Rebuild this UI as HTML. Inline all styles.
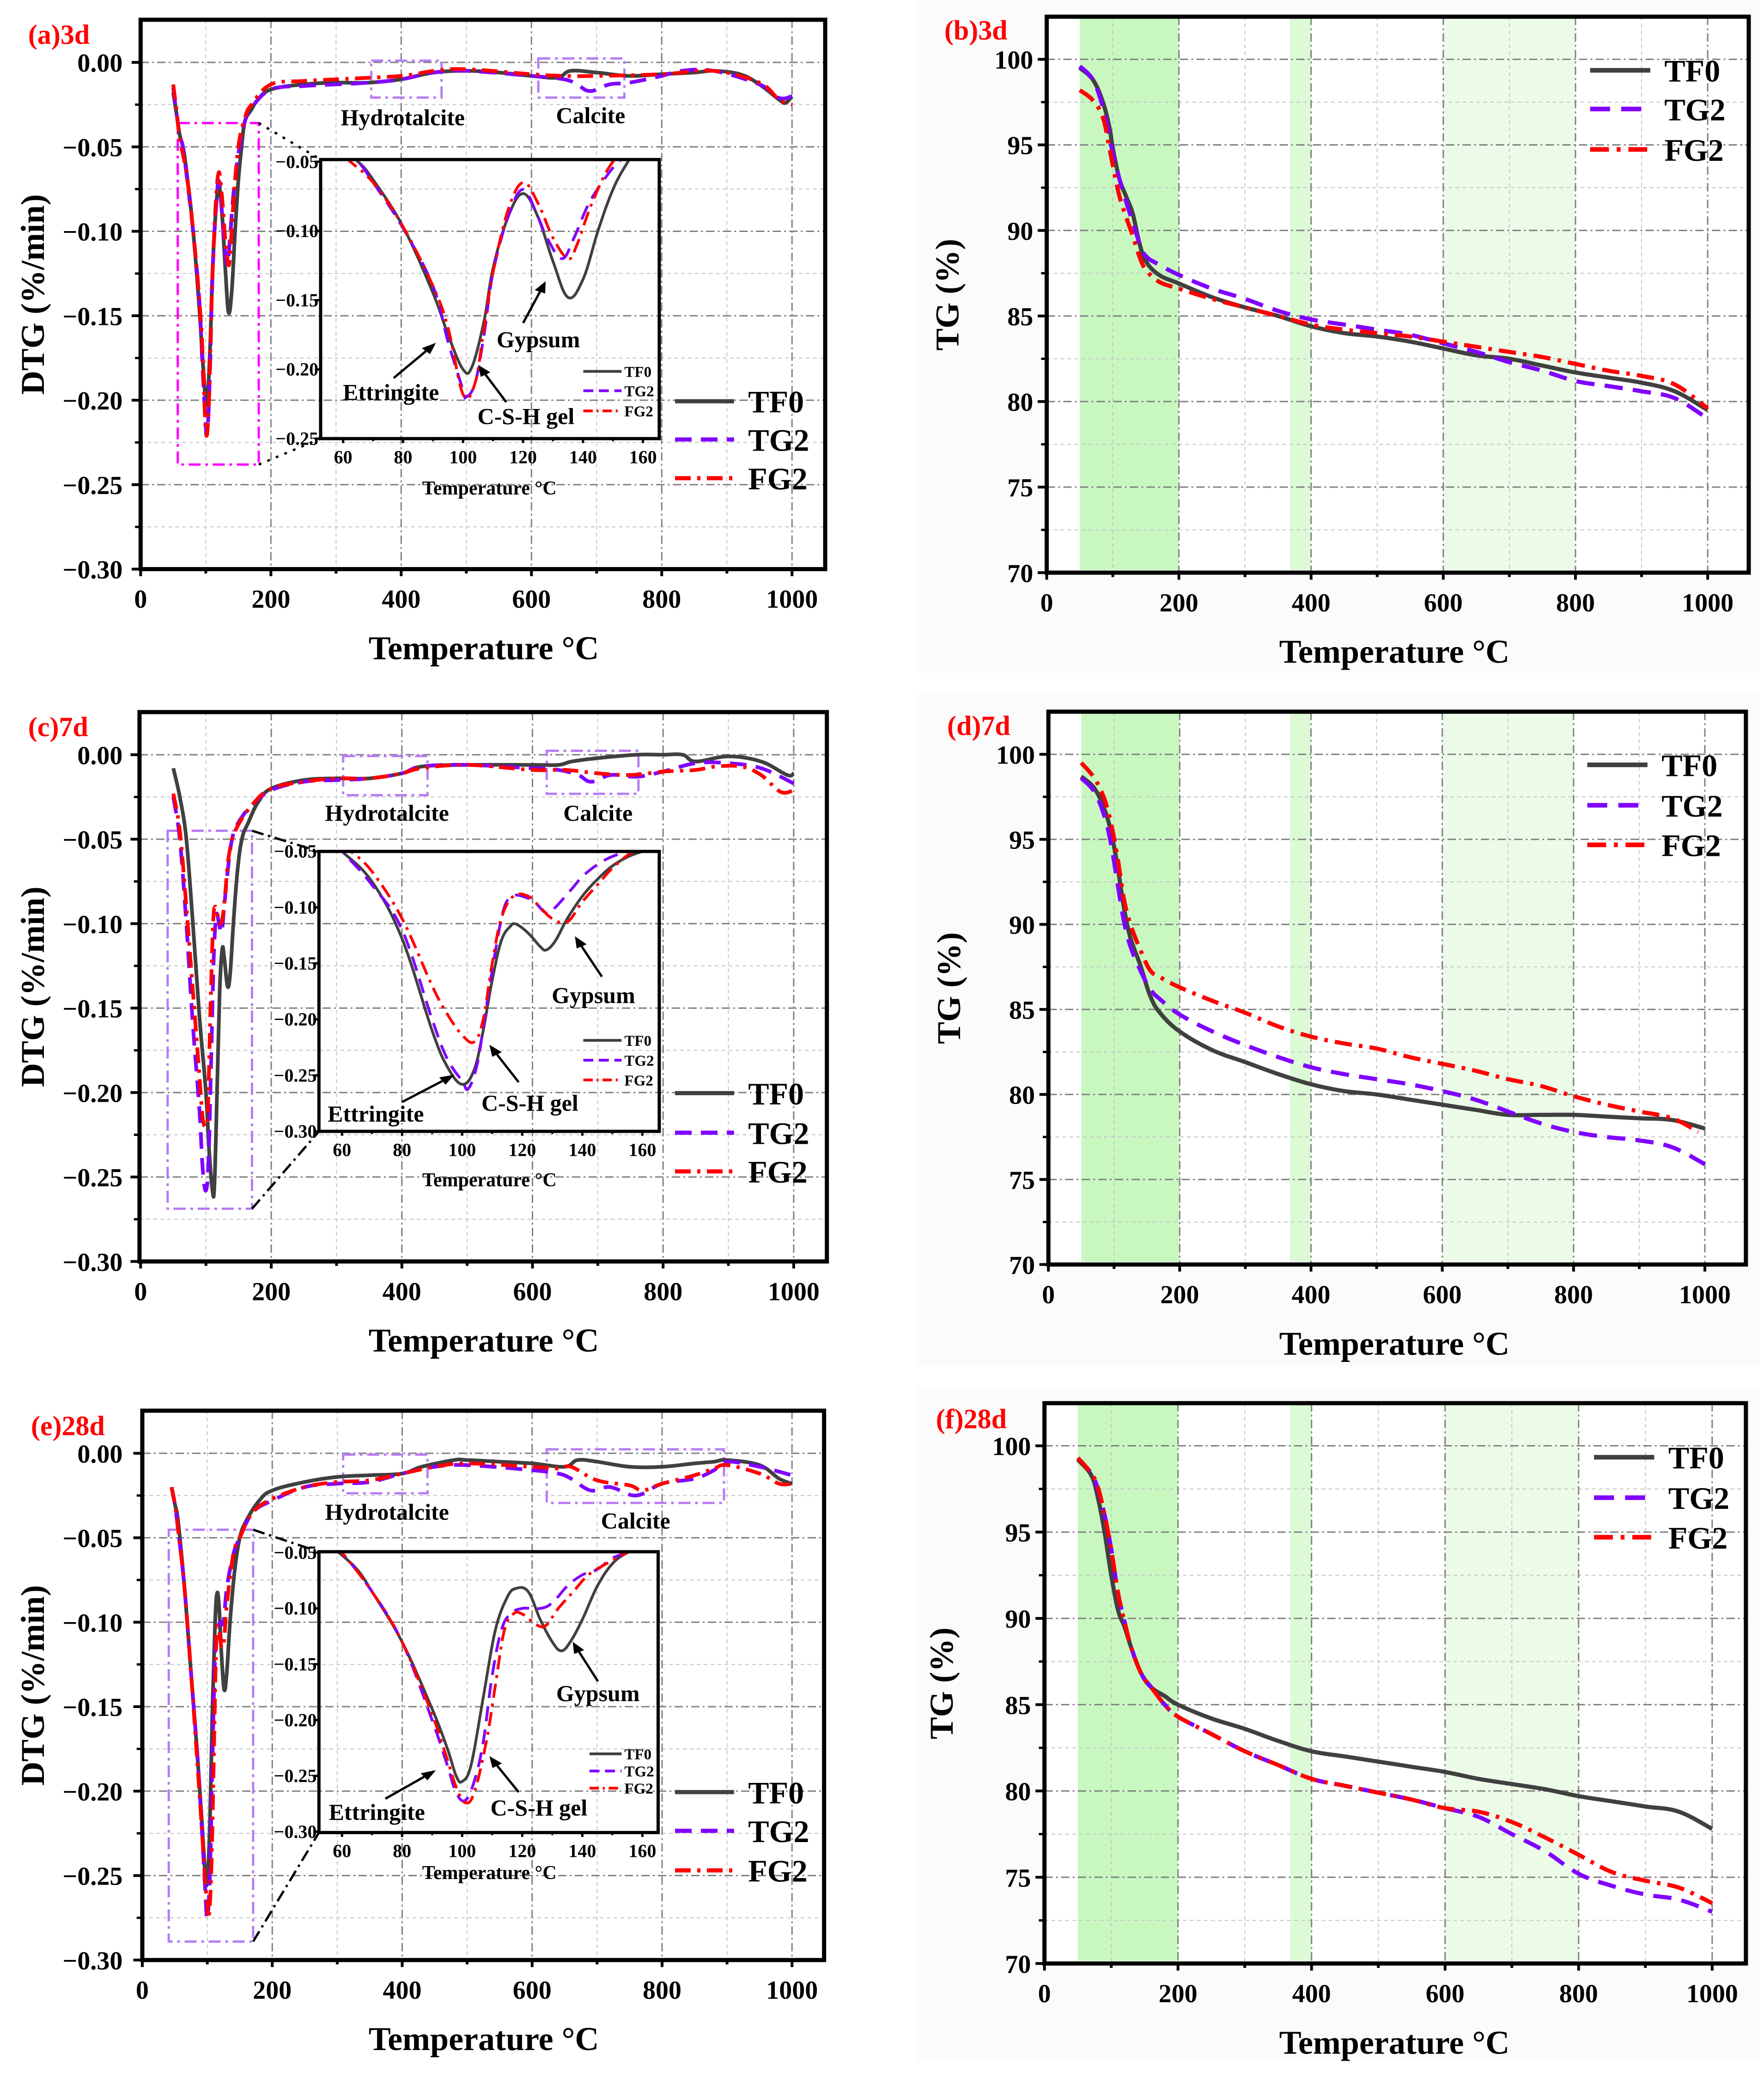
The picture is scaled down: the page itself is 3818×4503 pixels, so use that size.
<!DOCTYPE html>
<html><head><meta charset="utf-8">
<style>
html,body{margin:0;padding:0;background:#fff;overflow:hidden;}
svg{display:block;}
text{font-family:"Liberation Serif",serif;font-weight:bold;}
</style></head>
<body>
<svg id="fig" xmlns="http://www.w3.org/2000/svg" width="3818" height="4503" viewBox="0 0 3818 4503"></svg>
<script>
// ===== Panel (a) 3d DTG =====
const aTF0T=[50,55,60,65,70,80,90,95,100,103,107,110,115,120,125,130,135,140,145,150,155,160,170,180,200,250,300,350,400,450,500,550,600,640,660,700,750,800,850,880,920,950,980,990,1000];
const aTF0V=[-0.018,-0.03,-0.043,-0.05,-0.063,-0.097,-0.145,-0.175,-0.2,-0.198,-0.165,-0.127,-0.09,-0.073,-0.09,-0.122,-0.148,-0.135,-0.1,-0.07,-0.05,-0.035,-0.028,-0.022,-0.016,-0.013,-0.012,-0.012,-0.01,-0.006,-0.005,-0.006,-0.008,-0.009,-0.005,-0.006,-0.008,-0.007,-0.006,-0.005,-0.007,-0.013,-0.022,-0.024,-0.02];
const aTG2T=[50,55,60,65,70,80,90,95,100,101,104,107,110,115,120,125,128,133,137,142,148,152,160,170,200,250,300,350,400,450,500,600,650,670,690,720,750,800,830,880,950,980,1000];
const aTG2V=[-0.015,-0.03,-0.043,-0.05,-0.065,-0.098,-0.14,-0.18,-0.215,-0.22,-0.21,-0.175,-0.13,-0.09,-0.07,-0.09,-0.105,-0.12,-0.105,-0.08,-0.06,-0.05,-0.035,-0.027,-0.016,-0.014,-0.013,-0.012,-0.01,-0.006,-0.005,-0.008,-0.01,-0.013,-0.017,-0.013,-0.012,-0.008,-0.005,-0.005,-0.013,-0.021,-0.02];
const aFG2T=[50,55,60,70,80,90,95,100,104,107,110,115,120,125,130,135,138,143,150,160,170,200,250,300,400,450,500,600,650,700,800,880,950,980,1000];
const aFG2V=[-0.013,-0.028,-0.045,-0.065,-0.097,-0.14,-0.17,-0.218,-0.21,-0.17,-0.13,-0.085,-0.065,-0.08,-0.105,-0.12,-0.11,-0.08,-0.05,-0.033,-0.025,-0.013,-0.011,-0.01,-0.008,-0.005,-0.004,-0.007,-0.008,-0.008,-0.007,-0.005,-0.012,-0.022,-0.025];

// ===== Panel (c) 7d DTG =====
const cTF0T=[50,60,70,80,90,100,105,110,113,117,121,125,128,133,137,142,148,155,165,180,200,250,300,350,400,430,500,600,640,660,700,760,800,830,850,900,950,990,1000];
const cTF0V=[-0.008,-0.025,-0.05,-0.1,-0.155,-0.2,-0.235,-0.258,-0.255,-0.2,-0.14,-0.115,-0.12,-0.137,-0.13,-0.1,-0.07,-0.05,-0.04,-0.028,-0.02,-0.015,-0.014,-0.014,-0.011,-0.007,-0.006,-0.006,-0.006,-0.004,-0.002,0,0,0,-0.004,-0.001,-0.004,-0.012,-0.011];
const cTG2T=[50,60,70,80,90,95,100,104,108,112,116,120,124,128,133,140,150,170,200,250,300,350,400,430,500,600,640,670,690,720,760,800,850,900,950,1000];
const cTG2V=[-0.025,-0.05,-0.1,-0.16,-0.21,-0.245,-0.258,-0.24,-0.18,-0.12,-0.095,-0.1,-0.105,-0.09,-0.07,-0.05,-0.04,-0.03,-0.021,-0.016,-0.015,-0.014,-0.011,-0.007,-0.006,-0.008,-0.009,-0.012,-0.016,-0.012,-0.013,-0.01,-0.005,-0.005,-0.008,-0.017];
const cFG2T=[50,60,70,80,90,95,100,103,107,111,114,118,122,126,130,135,145,170,200,250,300,350,400,430,500,600,650,700,750,800,850,880,920,950,980,1000];
const cFG2V=[-0.023,-0.045,-0.09,-0.14,-0.19,-0.215,-0.22,-0.21,-0.15,-0.1,-0.09,-0.095,-0.1,-0.095,-0.08,-0.06,-0.045,-0.03,-0.02,-0.016,-0.014,-0.014,-0.011,-0.008,-0.006,-0.009,-0.009,-0.011,-0.012,-0.01,-0.009,-0.007,-0.007,-0.012,-0.022,-0.021];
const ciTF0T=[57,60,70,80,90,95,100,104,107,110,113,116,118,122,126,128,131,135,140,145,150,155,160,165];
const ciTF0V=[-0.043,-0.05,-0.077,-0.128,-0.21,-0.242,-0.258,-0.245,-0.21,-0.165,-0.13,-0.117,-0.115,-0.123,-0.135,-0.138,-0.13,-0.11,-0.09,-0.075,-0.063,-0.055,-0.05,-0.046];
const ciTG2T=[57,60,70,80,90,95,100,102,105,108,111,114,117,120,124,128,131,136,141,148,155,162];
const ciTG2V=[-0.043,-0.05,-0.08,-0.12,-0.2,-0.235,-0.255,-0.262,-0.24,-0.19,-0.14,-0.1,-0.09,-0.09,-0.095,-0.105,-0.1,-0.085,-0.07,-0.057,-0.05,-0.044];
const ciFG2T=[60,63,70,80,90,95,100,104,107,110,113,117,122,126,130,135,140,145,150,157,163];
const ciFG2V=[-0.044,-0.05,-0.068,-0.11,-0.17,-0.195,-0.214,-0.22,-0.2,-0.15,-0.11,-0.09,-0.09,-0.1,-0.11,-0.113,-0.095,-0.08,-0.065,-0.05,-0.045];

// ===== Panel (e) 28d DTG =====
const eTF0T=[45,50,55,65,75,85,92,97,100,104,108,112,115,118,122,126,130,135,142,150,160,180,200,250,300,350,400,430,480,500,550,600,650,670,700,750,800,850,880,900,950,980,1000];
const eTF0V=[-0.02,-0.03,-0.04,-0.08,-0.13,-0.18,-0.22,-0.25,-0.253,-0.22,-0.15,-0.1,-0.083,-0.09,-0.12,-0.14,-0.13,-0.1,-0.07,-0.05,-0.04,-0.028,-0.022,-0.017,-0.014,-0.013,-0.012,-0.008,-0.004,-0.004,-0.005,-0.006,-0.008,-0.004,-0.005,-0.008,-0.008,-0.006,-0.005,-0.004,-0.007,-0.015,-0.018];
const eTG2T=[45,50,55,65,75,85,92,97,100,104,108,112,116,120,125,130,140,150,170,200,250,300,350,400,450,500,600,640,660,690,720,760,800,850,880,900,950,1000];
const eTG2V=[-0.02,-0.03,-0.045,-0.08,-0.13,-0.18,-0.225,-0.26,-0.275,-0.25,-0.18,-0.12,-0.105,-0.1,-0.1,-0.08,-0.06,-0.05,-0.035,-0.028,-0.02,-0.018,-0.017,-0.012,-0.008,-0.007,-0.01,-0.012,-0.015,-0.022,-0.02,-0.025,-0.018,-0.015,-0.01,-0.005,-0.008,-0.013];
const eFG2T=[45,50,55,65,75,85,92,97,100,102,106,110,114,118,122,126,130,140,150,170,200,250,300,350,400,450,500,600,640,660,700,750,770,800,850,880,900,950,980,1000];
const eFG2V=[-0.02,-0.03,-0.045,-0.08,-0.13,-0.185,-0.225,-0.255,-0.265,-0.275,-0.25,-0.18,-0.11,-0.105,-0.115,-0.11,-0.09,-0.06,-0.05,-0.035,-0.027,-0.02,-0.017,-0.016,-0.012,-0.008,-0.006,-0.008,-0.009,-0.008,-0.016,-0.019,-0.022,-0.018,-0.013,-0.009,-0.007,-0.012,-0.018,-0.018];
const eiTF0T=[56,59,65,70,80,90,95,98,100,103,107,111,115,118,122,126,130,133,136,140,145,150,155,160];
const eiTF0V=[-0.043,-0.05,-0.065,-0.085,-0.13,-0.19,-0.225,-0.25,-0.255,-0.24,-0.18,-0.12,-0.09,-0.082,-0.085,-0.11,-0.13,-0.138,-0.13,-0.11,-0.08,-0.06,-0.05,-0.045];
const eiTG2T=[58,60,70,80,90,95,98,101,104,107,110,113,116,120,126,130,135,140,145,150,155,160];
const eiTG2V=[-0.046,-0.05,-0.085,-0.13,-0.2,-0.24,-0.265,-0.272,-0.255,-0.22,-0.16,-0.12,-0.105,-0.1,-0.1,-0.095,-0.08,-0.07,-0.065,-0.055,-0.05,-0.045];
const eiFG2T=[58,60,70,80,90,95,98,101,104,108,111,114,117,120,125,128,132,137,142,148,155,160];
const eiFG2V=[-0.046,-0.05,-0.085,-0.13,-0.195,-0.235,-0.26,-0.274,-0.265,-0.22,-0.17,-0.12,-0.105,-0.105,-0.115,-0.115,-0.1,-0.085,-0.07,-0.06,-0.05,-0.045];

// ===== TG panels =====
const bTF0T=[50,70,85,95,100,110,120,130,140,150,170,200,250,300,350,400,450,500,550,600,650,700,750,800,850,900,950,1000];
const bTF0V=[99.5,98.8,97.5,96,94.8,93,92,91,89.3,88.2,87.4,86.9,86.1,85.5,85,84.4,84,83.8,83.5,83.1,82.7,82.5,82.1,81.7,81.4,81.1,80.6,79.5];
const bTG2T=[50,70,85,95,100,110,120,130,140,150,170,200,250,300,350,400,450,500,550,600,650,700,750,800,850,900,950,1000];
const bTG2V=[99.6,98.8,97.2,95.5,94.5,93,91.7,90.5,89.3,88.5,88,87.4,86.6,86,85.3,84.8,84.5,84.2,83.9,83.4,82.9,82.3,81.8,81.2,80.9,80.6,80.2,79];
const bFG2T=[50,70,85,95,100,110,120,130,140,150,170,200,250,300,350,400,450,500,550,600,650,700,750,800,850,900,950,1000];
const bFG2V=[98.2,97.6,96.6,94.8,93.8,92,90.8,89.7,88.5,87.7,87,86.6,86,85.5,85,84.5,84.2,84,83.8,83.5,83.2,82.9,82.6,82.2,81.8,81.5,81,79.6];

const dTF0T=[50,70,85,95,105,115,125,140,155,170,200,250,300,350,400,450,500,550,600,650,700,750,800,850,900,950,1000];
const dTF0V=[98.7,98,96.8,95.5,93.5,91,89.2,87.6,85.8,84.8,83.7,82.6,81.9,81.2,80.6,80.2,80,79.7,79.4,79.1,78.8,78.8,78.8,78.7,78.6,78.5,78];
const dTG2T=[50,70,85,95,105,115,125,140,155,170,200,250,300,350,400,450,500,550,600,650,700,750,800,850,900,950,1000];
const dTG2V=[98.6,97.8,96.4,94.8,92.5,90.2,88.7,87.3,86.2,85.6,84.7,83.7,82.9,82.2,81.6,81.2,80.9,80.6,80.2,79.7,79,78.3,77.8,77.5,77.3,76.9,75.9];
const dFG2T=[50,70,85,95,105,115,125,140,155,170,200,250,300,350,400,450,500,550,600,650,700,750,800,850,900,950,990];
const dFG2V=[99.5,98.6,97.4,96,94,91.5,90,88.5,87.3,86.9,86.3,85.5,84.8,84,83.4,83,82.7,82.2,81.8,81.4,80.9,80.5,79.9,79.4,79,78.6,77.8];

const fTF0T=[50,70,80,90,100,110,120,130,145,160,180,200,250,300,350,400,450,500,550,600,650,700,750,800,850,900,950,1000];
const fTF0V=[99.2,98.3,97,95,92.5,90.5,89.5,88.3,86.8,86,85.5,85,84.2,83.6,82.9,82.3,82,81.7,81.4,81.1,80.7,80.4,80.1,79.7,79.4,79.1,78.8,77.8];
const fTG2T=[50,70,80,90,100,110,120,130,145,160,180,200,250,300,350,400,450,500,550,600,650,700,750,800,850,900,950,1000];
const fTG2V=[99.3,98.4,97.5,96,94,91.5,89.8,88.3,86.8,86,85,84.3,83.3,82.3,81.5,80.7,80.3,79.9,79.5,79,78.5,77.5,76.5,75.2,74.5,74,73.7,73];
const fFG2T=[50,70,80,90,100,110,120,130,145,160,180,200,250,300,350,400,450,500,550,600,650,700,750,800,850,900,950,1000];
const fFG2V=[99.3,98.4,97.6,96,94,91.5,89.8,88.3,86.8,86,85,84.3,83.3,82.3,81.5,80.7,80.3,79.9,79.5,79,78.8,78.2,77.3,76.3,75.3,74.8,74.4,73.5];

const dtgTicks=[0,-0.05,-0.1,-0.15,-0.2,-0.25,-0.3];
const dtgTickLabels=["0.00","\u22120.05","\u22120.10","\u22120.15","\u22120.20","\u22120.25","\u22120.30"];
const tgTicks=[70,75,80,85,90,95,100];
const xTicks=[0,200,400,600,800,1000];
const insetXTicks=[60,80,100,120,140,160];
const seriesNames=["TF0","TG2","FG2"];

const NS="http://www.w3.org/2000/svg";
const fig=document.getElementById('fig');
const SX=1.2175, SY=0.951;
function mk(tag,parent){const e=document.createElementNS(NS,tag);parent.appendChild(e);return e;}
function at(e,o){for(const k in o)e.setAttribute(k,o[k]);return e;}
function smooth(pts){
  if(pts.length<2)return '';
  let d='M'+pts[0][0].toFixed(1)+','+pts[0][1].toFixed(1);
  for(let i=0;i<pts.length-1;i++){
    const p0=pts[Math.max(0,i-1)],p1=pts[i],p2=pts[i+1],p3=pts[Math.min(pts.length-1,i+2)];
    const t=0.18;
    const c1=[p1[0]+(p2[0]-p0[0])*t,p1[1]+(p2[1]-p0[1])*t];
    const c2=[p2[0]-(p3[0]-p1[0])*t,p2[1]-(p3[1]-p1[1])*t];
    d+='C'+c1[0].toFixed(1)+','+c1[1].toFixed(1)+' '+c2[0].toFixed(1)+','+c2[1].toFixed(1)+' '+p2[0].toFixed(1)+','+p2[1].toFixed(1);
  }
  return d;
}
const STY={
  TF0:{c:'#404040',dash:''},
  TG2:{c:'#8000ff',dash:'36 20'},
  FG2:{c:'#ff0000',dash:'34 14 7 14'}
};
function line(g,x1,y1,x2,y2,st,w,dash,name){
  const l=mk('line',g);at(l,{x1,y1,x2,y2,stroke:st,'stroke-width':w,'vector-effect':'non-scaling-stroke'});
  if(dash)l.setAttribute('stroke-dasharray',dash);
  
  
  return l;
}
function txt(g,x,y,s,size,anchor,fill,name,rot){
  const t=mk('text',g);
  at(t,{x:0,y:0,'font-size':size,'text-anchor':anchor||'middle',fill:fill||'#000',
    transform:'translate('+x+','+y+') scale('+(1/SX)+','+(1/SY)+')'+(rot?' rotate('+rot+')':'')});
  t.textContent=s;
  
  
  return t;
}
function drawSeries(g,X,Y,T,V,name,w,scaleDash){
  const n=Math.min(T.length,V.length);const pts=[];
  for(let i=0;i<n;i++)pts.push([X(T[i]),Y(V[i])]);
  const p=mk('path',g);
  at(p,{d:smooth(pts),fill:'none',stroke:STY[name].c,'stroke-width':w,'stroke-linejoin':'round','vector-effect':'non-scaling-stroke'});
  if(STY[name].dash)p.setAttribute('stroke-dasharray',STY[name].dash.split(' ').map(v=>v*scaleDash).join(' '));
  
  
  return p;
}
function panelGroup(ox,oy,name){
  const g=mk('g',fig);g.setAttribute('transform','translate('+ox+','+oy+') scale('+SX+','+SY+')');
  
  
  return g;
}
function frameAndGrid(g,L,R,T,B,X,Y,yMaj,yMin){
  for(let v=100;v<1000;v+=200){const x=X(v);line(g,x,T,x,B,'#c4c4c4',2,'8 7','x-minor-gridline');}
  for(const v of yMin){const y=Y(v);if(y>T+2&&y<B-2)line(g,L,y,R,y,'#c4c4c4',2,'8 7','y-minor-gridline');}
  for(let v=200;v<=1000;v+=200){const x=X(v);line(g,x,T,x,B,'#808080',3,'18 7 4 7','x-major-gridline');}
  for(const v of yMaj){const y=Y(v);if(y>T+2&&y<B-2)line(g,L,y,R,y,'#808080',3,'18 7 4 7','y-major-gridline');}
}
function frameBox(g,L,R,T,B,w,name){
  const r=mk('rect',g);at(r,{x:L,y:T,width:R-L,height:B-T,fill:'none',stroke:'#000','stroke-width':w,'vector-effect':'non-scaling-stroke'});
  
  
}
function axesTicks(g,L,B,X,Y,yMaj,yMin,yLabels,yLabX,ySize){
  for(let v=0;v<=1000;v+=100){const x=X(v);line(g,x,B,x,B+(v%200===0?16:10),'#000',6,'','x-tick');}
  xTicks.forEach(v=>txt(g,X(v),B+88,String(v),56,'middle','#000','x-tick-label'));
  yMaj.forEach((v,i)=>{const y=Y(v);line(g,L-16,y,L,y,'#000',6,'','y-tick');txt(g,yLabX,y+ySize*0.36/SY,yLabels[i],ySize,'end','#000','y-tick-label');});
  yMin.forEach(v=>{const y=Y(v);line(g,L-10,y,L,y,'#000',5,'','y-minor-tick');});
}
function legend(g,x1,x2,ys,tx,size,w,sd,name){
  const lg=mk('g',g);
  
  seriesNames.forEach((s,i)=>{
    line(lg,x1,ys[i],x2,ys[i],STY[s].c,w,STY[s].dash?STY[s].dash.split(' ').map(v=>v*sd).join(' '):'','legend-line-'+s.toLowerCase());
    txt(lg,tx,ys[i]+size*0.36/SY,s,size,'start','#000','legend-label-'+s.toLowerCase());
  });
}
function arrow(g,x1,y1,x2,y2,name){
  const a=mk('g',g);
  
  const ang=Math.atan2(y2-y1,x2-x1);const hl=26,hw=10;
  const bx=x2-hl*Math.cos(ang),by=y2-hl*Math.sin(ang);
  const l=mk('line',a);at(l,{x1,y1,x2:bx,y2:by,stroke:'#000','stroke-width':5,'vector-effect':'non-scaling-stroke'});
  const p=mk('polygon',a);
  at(p,{points:x2+','+y2+' '+(bx-hw*Math.sin(ang))+','+(by+hw*Math.cos(ang))+' '+(bx+hw*Math.sin(ang))+','+(by-hw*Math.cos(ang)),fill:'#000'});
}
function dashRect(g,x,y,w,h,col,name){
  const r=mk('rect',g);at(r,{x,y,width:w,height:h,fill:'none',stroke:col,'stroke-width':5,'stroke-dasharray':'26 10 6 10','vector-effect':'non-scaling-stroke'});
  
  
}

let clipId=0;
function dtgPanel(cfg){
  const g=panelGroup(cfg.ox,cfg.oy,cfg.name);
  const X=v=>cfg.x0+(cfg.x1-cfg.x0)*v/1000;
  const Y=v=>cfg.y0+(cfg.y3-cfg.y0)*(v/-0.3);
  const yMaj=dtgTicks, yMin=[0.025,-0.025,-0.075,-0.125,-0.175,-0.225,-0.275];
  frameAndGrid(g,cfg.L,cfg.R,cfg.T,cfg.B,X,Y,yMaj,yMin);
  dashRect(g,cfg.sel[0],cfg.sel[1],cfg.sel[2]-cfg.sel[0],cfg.sel[3]-cfg.sel[1],cfg.selCol,'zoom-selection-box');
  dashRect(g,cfg.hyd[0],cfg.hyd[1],cfg.hyd[2]-cfg.hyd[0],cfg.hyd[3]-cfg.hyd[1],'#b77cf7','hydrotalcite-region-box');
  dashRect(g,cfg.cal[0],cfg.cal[1],cfg.cal[2]-cfg.cal[0],cfg.cal[3]-cfg.cal[1],'#b77cf7','calcite-region-box');
  txt(g,cfg.hydT[0],cfg.hydT[1],'Hydrotalcite',50,'middle','#000','hydrotalcite-label');
  txt(g,cfg.calT[0],cfg.calT[1],'Calcite',50,'middle','#000','calcite-label');
  line(g,cfg.sel[2],cfg.sel[1],cfg.ins.L,cfg.ins.T,'#000',5,cfg.connDash,'zoom-connector-top');
  line(g,cfg.sel[2],cfg.sel[3],cfg.ins.L,cfg.ins.B,'#000',5,cfg.connDash,'zoom-connector-bottom');
  const sg=mk('g',g);
  
  cfg.data.forEach(d=>drawSeries(sg,X,Y,d[1],d[2],d[0],8,1));
  const I=cfg.ins;
  const ig=mk('g',g);
  
  const IX=v=>I.x60+(v-60)*(I.x160-I.x60)/100;
  const IY=v=>I.y05+(v+0.05)/(-0.05)*I.per;
  const cid='clip'+(clipId++);
  const cp=mk('clipPath',ig);cp.setAttribute('id',cid);
  const cr=mk('rect',cp);at(cr,{x:I.L,y:I.T,width:I.R-I.L,height:I.B-I.T});
  const isg=mk('g',ig);isg.setAttribute('clip-path','url(#'+cid+')');
  
  
  cfg.idata.forEach(d=>drawSeries(isg,IX,IY,d[1],d[2],d[0],6,0.9));
  frameBox(ig,I.L,I.R,I.T,I.B,7,'inset-frame');
  insetXTicks.forEach(v=>{line(ig,IX(v),I.B,IX(v),I.B+10,'#000',5,'','inset-x-tick');txt(ig,IX(v),I.B+56,String(v),40,'middle','#000','inset-x-tick-label');});
  [70,90,110,130,150].forEach(v=>line(ig,IX(v),I.B,IX(v),I.B+6,'#000',4,'','inset-x-minor-tick'));
  I.yt.forEach(v=>{const y=IY(v);line(ig,I.L-10,y,I.L,y,'#000',5,'','inset-y-tick');txt(ig,I.L-4,y+14,'\u2212'+Math.abs(v).toFixed(2),40,'end','#000','inset-y-tick-label');});
  txt(ig,870,I.labY,'Temperature \u00b0C',42,'middle','#000','inset-x-axis-title');
  legend(ig,I.lg[0],I.lg[1],I.lgy,I.lg[1]+5,33,6,0.6,'inset-legend');
  txt(ig,cfg.gy[0],cfg.gy[1],'Gypsum',50,'middle','#000','gypsum-label');
  arrow(ig,cfg.gyA[0],cfg.gyA[1],cfg.gyA[2],cfg.gyA[3],'gypsum-arrow');
  txt(ig,cfg.et[0],cfg.et[1],'Ettringite',50,'middle','#000','ettringite-label');
  arrow(ig,cfg.etA[0],cfg.etA[1],cfg.etA[2],cfg.etA[3],'ettringite-arrow');
  txt(ig,cfg.cs[0],cfg.cs[1],'C-S-H gel',50,'middle','#000','csh-gel-label');
  arrow(ig,cfg.csA[0],cfg.csA[1],cfg.csA[2],cfg.csA[3],'csh-gel-arrow');
  frameBox(g,cfg.L,cfg.R,cfg.T,cfg.B,9,'plot-frame');
  axesTicks(g,cfg.L,cfg.B,X,Y,yMaj,[-0.025,-0.075,-0.125,-0.175,-0.225,-0.275],dtgTickLabels,218,56);
  legend(g,1200,1305,cfg.lgy,1330,68,9,1,'legend');
  txt(g,860,cfg.B+205,'Temperature \u00b0C',72,'middle','#000','x-axis-title');
  txt(g,78,(cfg.T+cfg.B)/2,'DTG (%/min)',72,'middle','#000','y-axis-title',-90);
  txt(g,cfg.pl[0],cfg.pl[1],cfg.plabel,60,'start','#ff0000','panel-label');
}
function tgPanel(cfg){
  const g=panelGroup(cfg.ox,cfg.oy,cfg.name);
  const X=v=>cfg.x0+(cfg.x1-cfg.x0)*v/1000;
  const Y=v=>cfg.y100+(cfg.y70-cfg.y100)*(100-v)/30;
  const bg=mk('rect',g);at(bg,{x:60,y:0,width:1500,height:1530,fill:'#fbfbfb'});
  
  
  const pa=mk('rect',g);at(pa,{x:cfg.L,y:cfg.T,width:cfg.R-cfg.L,height:cfg.B-cfg.T,fill:'#fff'});
  
  
  [[50,200,'#c8f8c0','band-50-200'],[368,400,'#dcfad6','band-368-400'],[600,800,'#ebfbe7','band-600-800']].forEach(b=>{
    const r=mk('rect',g);at(r,{x:X(b[0]),y:cfg.T,width:X(b[1])-X(b[0]),height:cfg.B-cfg.T-6,fill:b[2]});
    
    
  });
  frameAndGrid(g,cfg.L,cfg.R,cfg.T,cfg.B,X,Y,tgTicks,[72.5,77.5,82.5,87.5,92.5,97.5,102.5]);
  const sg=mk('g',g);
  
  cfg.data.forEach(d=>drawSeries(sg,X,Y,d[1],d[2],d[0],9,1.1));
  frameBox(g,cfg.L,cfg.R,cfg.T,cfg.B,9,'plot-frame');
  axesTicks(g,cfg.L,cfg.B,X,Y,tgTicks,[72.5,77.5,82.5,87.5,92.5,97.5],tgTicks.map(String),cfg.L-24,56);
  legend(g,cfg.lg[0],cfg.lg[1],cfg.lgy,cfg.lg[1]+25,68,10,1.2,'legend');
  txt(g,910,cfg.B+205,'Temperature \u00b0C',72,'middle','#000','x-axis-title');
  txt(g,cfg.ytx,(cfg.T+cfg.B)/2,'TG (%)',72,'middle','#000','y-axis-title',-90);
  txt(g,cfg.pl[0],cfg.pl[1],cfg.plabel,60,'start','#ff0000','panel-label');
}

dtgPanel({ox:0,oy:0,name:'panel-a-3d-dtg',plabel:'(a)3d',pl:[50,100],
  L:250,R:1467,T:45,B:1295,x0:250,x1:1408,y0:142,y3:1295,
  sel:[316,280,460,1057],selCol:'#ff00ff',hyd:[660,138,785,222],cal:[957,133,1110,222],hydT:[716,285],calT:[1050,280],
  connDash:'6 14',lgy:[913,1000,1088],
  data:[['TF0',aTF0T,aTF0V],['TG2',aTG2T,aTG2V],['FG2',aFG2T,aFG2V]],
  idata:[['TF0',aTF0T,aTF0V],['TG2',aTG2T,aTG2V],['FG2',aFG2T,aFG2V]],
  ins:{L:570,R:1172,T:363,B:998,x60:610,x160:1143,y05:368,per:157.5,yt:[-0.05,-0.1,-0.15,-0.2,-0.25],labY:1125,lg:[1037,1105],lgy:[845,889,935]},
  gy:[957,790],gyA:[930,735,970,640],et:[695,910],etA:[700,860,775,780],cs:[935,965],csA:[900,915,850,830]});
dtgPanel({ox:0,oy:1500,name:'panel-c-7d-dtg',plabel:'(c)7d',pl:[50,98],
  L:248,R:1470,T:43,B:1293,x0:250,x1:1411,y0:140,y3:1293,
  sel:[298,313,448,1173],selCol:'#b77cf7',hyd:[610,143,760,232],cal:[972,131,1135,229],hydT:[688,290],calT:[1063,290],
  connDash:'26 10 5 10',lgy:[910,1000,1088],
  data:[['TF0',cTF0T,cTF0V],['TG2',cTG2T,cTG2V],['FG2',cFG2T,cFG2V]],
  idata:[['TF0',ciTF0T,ciTF0V],['TG2',ciTG2T,ciTG2V],['FG2',ciFG2T,ciFG2V]],
  ins:{L:567,R:1172,T:360,B:997,x60:608,x160:1142,y05:360,per:127.4,yt:[-0.05,-0.1,-0.15,-0.2,-0.25,-0.3],labY:1122,lg:[1037,1105],lgy:[790,835,880]},
  gy:[1055,705],gyA:[1070,645,1022,553],et:[668,975],etA:[715,930,808,868],cs:[942,950],csA:[922,885,870,800]});
dtgPanel({ox:0,oy:3003,name:'panel-e-28d-dtg',plabel:'(e)28d',pl:[55,108],
  L:253,R:1465,T:52,B:1302,x0:253,x1:1408,y0:149,y3:1302,
  sel:[300,323,450,1260],selCol:'#b77cf7',hyd:[610,152,760,240],cal:[972,140,1287,262],hydT:[688,300],calT:[1130,320],
  connDash:'26 10 5 10',lgy:[920,1008,1098],
  data:[['TF0',eTF0T,eTF0V],['TG2',eTG2T,eTG2V],['FG2',eFG2T,eFG2V]],
  idata:[['TF0',eiTF0T,eiTF0V],['TG2',eiTG2T,eiTG2V],['FG2',eiFG2T,eiFG2V]],
  ins:{L:567,R:1170,T:373,B:1012,x60:608,x160:1142,y05:375,per:127,yt:[-0.05,-0.1,-0.15,-0.2,-0.25,-0.3],labY:1118,lg:[1048,1105],lgy:[833,872,911]},
  gy:[1063,713],gyA:[1063,668,1018,578],et:[670,983],etA:[685,935,775,870],cs:[958,973],csA:[922,920,870,838]});

tgPanel({ox:1910,oy:0,name:'panel-b-3d-tg',plabel:'(b)3d',pl:[110,90],
  L:292,R:1540,T:38,B:1303,x0:292,x1:1467,y100:135,y70:1303,ytx:135,
  lg:[1258,1365],lgy:[160,248,340],
  data:[['TF0',bTF0T,bTF0V],['TG2',bTG2T,bTG2V],['FG2',bFG2T,bFG2V]]});
tgPanel({ox:1910,oy:1500,name:'panel-d-7d-tg',plabel:'(d)7d',pl:[115,95],
  L:295,R:1535,T:42,B:1300,x0:295,x1:1462,y100:139,y70:1300,ytx:138,
  lg:[1253,1360],lgy:[163,255,345],
  data:[['TF0',dTF0T,dTF0V],['TG2',dTG2T,dTG2V],['FG2',dFG2T,dFG2V]]});
tgPanel({ox:1910,oy:3003,name:'panel-f-28d-tg',plabel:'(f)28d',pl:[95,92],
  L:288,R:1535,T:35,B:1310,x0:288,x1:1475,y100:132,y70:1310,ytx:125,
  lg:[1265,1372],lgy:[158,250,340],
  data:[['TF0',fTF0T,fTF0V],['TG2',fTG2T,fTG2V],['FG2',fFG2T,fFG2V]]});
</script>
</body></html>
